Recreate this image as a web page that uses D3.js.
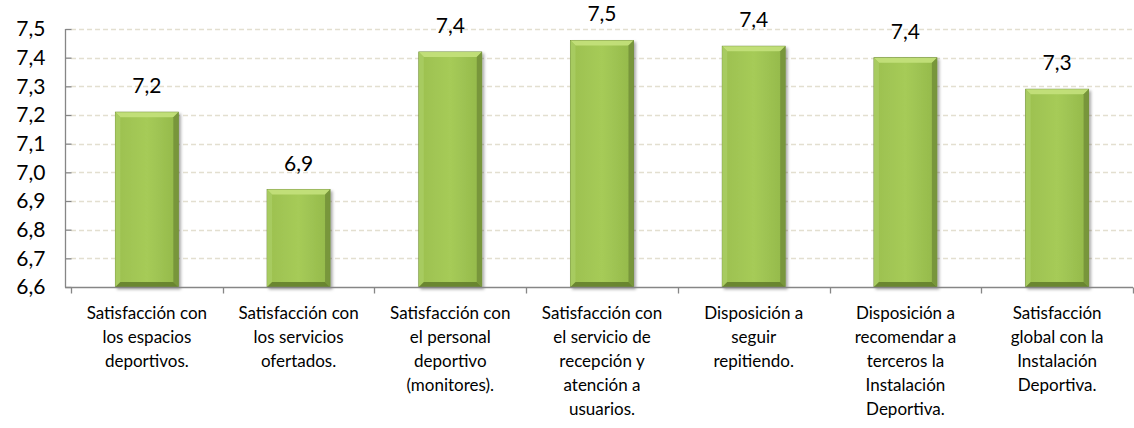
<!DOCTYPE html>
<html>
<head>
<meta charset="utf-8">
<script src="https://cdn.jsdelivr.net/npm/d3@7"></script>
<style>
  body { margin: 0; background: #fff; }
  text { font-family: Lato, "Open Sans", sans-serif; fill: #000; }
</style>
</head>
<body>
<div id="chart"></div>
<script>
// categories and values
var categories = [
  ["Satisfacción con", "los espacios", "deportivos."],
  ["Satisfacción con", "los servicios", "ofertados."],
  ["Satisfacción con", "el personal", "deportivo", "(monitores)."],
  ["Satisfacción con", "el servicio de", "recepción y", "atención a", "usuarios."],
  ["Disposición a", "seguir", "repitiendo."],
  ["Disposición a", "recomendar a", "terceros la", "Instalación", "Deportiva."],
  ["Satisfacción", "global con la", "Instalación", "Deportiva."]
];
var values = [7.21, 6.94, 7.42, 7.46, 7.44, 7.40, 7.29];
var yTicks = [6.6, 6.7, 6.8, 6.9, 7.0, 7.1, 7.2, 7.3, 7.4, 7.5];

var width = 1134, height = 428;
var margin = {top: 29, right: 1, bottom: 141, left: 71};

var svg = d3.select("#chart").append("svg")
  .attr("width", width)
  .attr("height", height);

var defs = svg.append("defs");

var grad = defs.append("linearGradient").attr("id", "barGrad")
  .attr("x1", "0").attr("x2", "1").attr("y1", "0").attr("y2", "0");
grad.append("stop").attr("offset", "0").attr("stop-color", "#9cc04f");
grad.append("stop").attr("offset", "0.5").attr("stop-color", "#a6cb58");
grad.append("stop").attr("offset", "1").attr("stop-color", "#93b84a");

var shadow = defs.append("filter").attr("id", "shadow")
  .attr("x", "-20%").attr("y", "-10%").attr("width", "150%").attr("height", "130%");
shadow.append("feDropShadow")
  .attr("dx", 2).attr("dy", 2).attr("stdDeviation", 1.5)
  .attr("flood-color", "#000").attr("flood-opacity", 0.35);

var x = d3.scaleBand()
  .domain(d3.range(categories.length))
  .range([margin.left, width - margin.right])
  .paddingInner(0.585)
  .paddingOuter(0.2925);

var y = d3.scaleLinear()
  .domain([6.6, 7.5])
  .range([height - margin.bottom, margin.top]);

var fmt = function(v) { return d3.format(".1f")(v).replace(".", ","); };

// grid lines
svg.append("g")
  .selectAll("line")
  .data(yTicks.slice(1))
  .join("line")
  .attr("x1", margin.left)
  .attr("x2", width - margin.right)
  .attr("y1", d => Math.round(y(d)) + 0.5)
  .attr("y2", d => Math.round(y(d)) + 0.5)
  .attr("stroke", "#e3dfd0")
  .attr("stroke-width", 1.3)
  .attr("stroke-dasharray", "5,3");

// y axis
var yAxis = svg.append("g")
  .attr("transform", "translate(" + (margin.left + 0.5) + ",0)")
  .call(d3.axisLeft(y).tickValues(yTicks).tickFormat(fmt).tickSize(6).tickPadding(20));
yAxis.selectAll("path, line").attr("stroke", "#868686").attr("stroke-width", 1.3);
yAxis.select(".domain").attr("d", "M-6," + (Math.round(y(6.6)) + 0.5) + "V" + y(7.5));
yAxis.selectAll("text").attr("font-size", 21).attr("font-family", "Lato, sans-serif").attr("fill", "#000");

// bars
var bev = 5;
var bars = svg.append("g").selectAll("g.bar")
  .data(values)
  .join("g")
  .attr("class", "bar");

bars.append("rect")
  .attr("x", (d, i) => x(i))
  .attr("y", d => y(d))
  .attr("width", x.bandwidth())
  .attr("height", d => y(6.6) - y(d))
  .attr("fill", "url(#barGrad)")
  .attr("stroke", "#6e8b36")
  .attr("stroke-width", 0.8)
  .attr("filter", "url(#shadow)");

// bevels: top light, left light, right dark, bottom dark
function bevel(i, d, side) {
  var x0 = x(i), x1 = x(i) + x.bandwidth(), y0 = y(d), y1 = y(6.6);
  if (side === "top") return [[x0, y0], [x1, y0], [x1 - bev, y0 + bev], [x0 + bev, y0 + bev]];
  if (side === "left") return [[x0, y0], [x0 + bev, y0 + bev], [x0 + bev, y1 - bev], [x0, y1]];
  if (side === "right") return [[x1, y0], [x1, y1], [x1 - bev, y1 - bev], [x1 - bev, y0 + bev]];
  return [[x0, y1], [x0 + bev, y1 - bev], [x1 - bev, y1 - bev], [x1, y1]];
}
var bevelColors = {top: "#c4e17c", left: "#a9cc62", right: "#74923a", bottom: "#64802c"};
["top", "left", "right", "bottom"].forEach(function(side) {
  bars.append("polygon")
    .attr("points", (d, i) => bevel(i, d, side).map(p => p.join(",")).join(" "))
    .attr("fill", bevelColors[side])
    .attr("opacity", 0.9);
});

// value labels
svg.append("g").selectAll("text")
  .data(values)
  .join("text")
  .attr("x", (d, i) => x(i) + x.bandwidth() / 2)
  .attr("y", d => y(d) - 19)
  .attr("text-anchor", "middle")
  .attr("font-size", 21)
  .text(d => fmt(d));

// x axis line and ticks
var xAxisY = Math.round(y(6.6)) + 0.5;
var xg = svg.append("g");
xg.append("line")
  .attr("x1", margin.left - 6).attr("x2", width - margin.right)
  .attr("y1", xAxisY).attr("y2", xAxisY)
  .attr("stroke", "#868686").attr("stroke-width", 1.3);
var step = x.step();
xg.selectAll("line.tick")
  .data(d3.range(categories.length + 1))
  .join("line")
  .attr("class", "tick")
  .attr("x1", i => Math.round(margin.left + i * step) + 0.5)
  .attr("x2", i => Math.round(margin.left + i * step) + 0.5)
  .attr("y1", xAxisY).attr("y2", xAxisY + 6)
  .attr("stroke", "#868686").attr("stroke-width", 1.3);

// category labels
var labels = svg.append("g").selectAll("text")
  .data(categories)
  .join("text")
  .attr("text-anchor", "middle")
  .attr("font-size", 17)
  .attr("x", (d, i) => x(i) + x.bandwidth() / 2)
  .attr("y", xAxisY + 31);
labels.selectAll("tspan")
  .data(d => d)
  .join("tspan")
  .attr("x", function() { return d3.select(this.parentNode).attr("x"); })
  .attr("dy", (d, j) => j === 0 ? 0 : 24)
  .text(d => d);
</script>
</body>
</html>
